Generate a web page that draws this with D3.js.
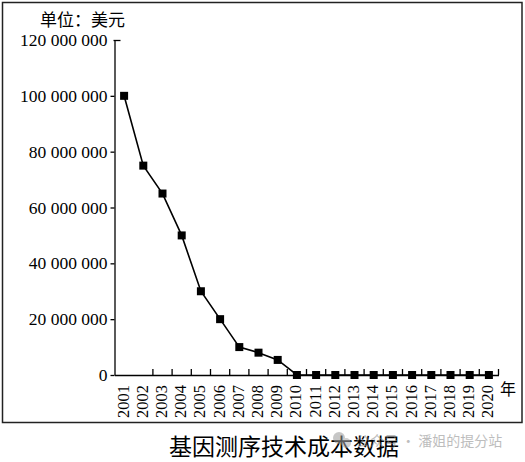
<!DOCTYPE html>
<html>
<head>
<meta charset="utf-8">
<script src="https://cdn.jsdelivr.net/npm/d3@7"></script>
<style>
  body { margin: 0; background: #fff; }
  svg { display: block; }
</style>
</head>
<body>
<div id="chart"></div>
<script>
const years = ['2001', '2002', '2003', '2004', '2005', '2006', '2007', '2008', '2009', '2010',
  '2011', '2012', '2013', '2014', '2015', '2016', '2017', '2018', '2019', '2020'];
const costs = [100000000, 75000000, 65000000, 50000000, 30000000, 20000000, 10000000, 8000000, 5400000, 0,
  0, 0, 0, 0, 0, 0, 0, 0, 0, 0];
const yTicks = [0, 20000000, 40000000, 60000000, 80000000, 100000000, 120000000];

const unitLabel = '单位：美元';
const yearLabel = '年';
const chartTitle = '基因测序技术成本数据';
const watermark = '公众号 · 潘姐的提分站';

const width = 525;
const height = 462;
const serif = '"Liberation Serif", "Times New Roman", serif';
const cjk = '"Liberation Serif", "Noto Sans CJK SC", serif';

const svg = d3.select('#chart')
  .append('svg')
  .attr('width', width)
  .attr('height', height);

// outer frame
svg.append('rect')
  .attr('x', 2.5)
  .attr('y', 2.5)
  .attr('width', 519.5)
  .attr('height', 420)
  .attr('fill', 'none')
  .attr('stroke', '#222')
  .attr('stroke-width', 1.5);

const x = d3.scaleBand().domain(years).range([114.5, 498.5]).padding(0);
const y = d3.scaleLinear().domain([0, 120000000]).range([375, 40]);

// space-separated thousands, e.g. 120 000 000
const fmt = d => d3.format(',')(d).replace(/,/g, ' ');

const yAxis = d3.axisLeft(y)
  .tickValues(yTicks)
  .tickFormat(fmt)
  .tickSize(4)
  .tickSizeOuter(0)
  .tickPadding(3);

const yg = svg.append('g')
  .attr('transform', 'translate(114.5, 0)')
  .call(yAxis);

yg.selectAll('path, line').attr('stroke', '#000').attr('stroke-width', 1.3);
yg.selectAll('text')
  .style('font-family', serif)
  .style('font-size', '17.5px')
  .attr('fill', '#000');

// the top tick turns to the right like a cap
yg.selectAll('.tick')
  .filter(d => d === 120000000)
  .select('line')
  .attr('x1', -1)
  .attr('x2', 6);

const xAxis = d3.axisBottom(x)
  .tickSize(0)
  .tickSizeOuter(0);

const xg = svg.append('g')
  .attr('transform', 'translate(0, 375)')
  .call(xAxis);

xg.select('.domain').attr('stroke', '#000').attr('stroke-width', 1.3);
xg.selectAll('.tick text')
  .attr('transform', 'rotate(-90)')
  .attr('x', -10)
  .attr('y', -1)
  .attr('dy', '0.33em')
  .attr('fill', '#000')
  .style('text-anchor', 'end')
  .style('font-family', serif)
  .style('font-size', '16.5px');

// ticks sit on the band edges, pointing up; first edge has none
const edges = years.slice(2).map(yr => x(yr)).concat([x(years[years.length - 1]) + x.bandwidth()]);
xg.selectAll('line.edge')
  .data(edges)
  .enter()
  .append('line')
  .attr('class', 'edge')
  .attr('x1', d => d)
  .attr('x2', d => d)
  .attr('y1', 0)
  .attr('y2', -6)
  .attr('stroke', '#000')
  .attr('stroke-width', 1.3);

const points = years.map((yr, i) => ({ year: yr, cost: costs[i] }));
const cx = d => x(d.year) + x.bandwidth() / 2;

const line = d3.line()
  .x(cx)
  .y(d => y(d.cost));

svg.append('path')
  .datum(points)
  .attr('d', line)
  .attr('fill', 'none')
  .attr('stroke', '#000')
  .attr('stroke-width', 1.6);

const size = 8;
svg.selectAll('rect.marker')
  .data(points)
  .enter()
  .append('rect')
  .attr('class', 'marker')
  .attr('x', d => cx(d) - size / 2)
  .attr('y', d => y(d.cost) - size / 2)
  .attr('width', size)
  .attr('height', size)
  .attr('fill', '#000');

svg.append('text')
  .attr('x', 40)
  .attr('y', 26)
  .style('font-family', cjk)
  .style('font-size', '17px')
  .text(unitLabel);

svg.append('text')
  .attr('x', 500)
  .attr('y', 395)
  .style('font-family', cjk)
  .style('font-size', '16px')
  .text(yearLabel);

svg.append('text')
  .attr('x', 284)
  .attr('y', 455)
  .style('text-anchor', 'middle')
  .style('font-family', cjk)
  .style('font-size', '23px')
  .text(chartTitle);

// faint watermark with its little chat icon
const wm = svg.append('g').attr('opacity', 0.55);
wm.append('circle').attr('cx', 339).attr('cy', 438).attr('r', 6).attr('fill', '#999');
wm.append('circle').attr('cx', 346).attr('cy', 443).attr('r', 5).attr('fill', '#aaa');
wm.append('text')
  .attr('x', 356)
  .attr('y', 446)
  .style('font-family', '"Noto Sans CJK SC", sans-serif')
  .style('font-size', '14px')
  .style('fill', '#888')
  .text(watermark);
</script>
</body>
</html>
